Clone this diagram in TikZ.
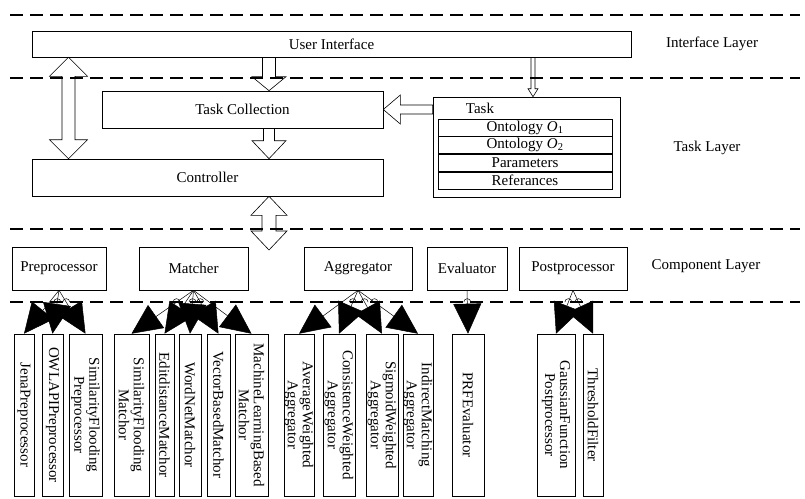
\documentclass[tikz,border=0pt]{standalone}
\usepackage{fontspec}
\setmainfont{Liberation Serif}
\usetikzlibrary{arrows.meta,calc,positioning}

% hollow block arrow: from, to, shaft half width, head half width, head length
\newcommand{\blockarrow}[5]{%
  \draw[hollow] let \p1=(#1), \p2=(#2),
      \n1={atan2(\y2-\y1,\x2-\x1)}, \n2={veclen(\x2-\x1,\y2-\y1)} in
    [shift={(\p1)}, rotate=\n1]
    (0pt,-#3) -- ({\n2*1pt-#5},-#3) -- ({\n2*1pt-#5},-#4) -- ({\n2*1pt},0pt)
    -- ({\n2*1pt-#5},#4) -- ({\n2*1pt-#5},#3) -- (0pt,#3) -- cycle;}
% same with a head at both ends
\newcommand{\twinarrow}[5]{%
  \draw[hollow] let \p1=(#1), \p2=(#2),
      \n1={atan2(\y2-\y1,\x2-\x1)}, \n2={veclen(\x2-\x1,\y2-\y1)} in
    [shift={(\p1)}, rotate=\n1]
    (0pt,0pt) -- (#5,-#4) -- (#5,-#3) -- ({\n2*1pt-#5},-#3) -- ({\n2*1pt-#5},-#4)
    -- ({\n2*1pt},0pt) -- ({\n2*1pt-#5},#4) -- ({\n2*1pt-#5},#3) -- (#5,#3)
    -- (#5,#4) -- cycle;}
% small jump of a link over the lowest layer border
\newcommand{\hop}[2]{%
  \draw[line width=0.5pt] ($(#1)!0.273!(#2)$) ++(-3.5pt,0pt)
    arc[start angle=180, end angle=0, radius=3.5pt];}

\begin{document}
\begin{tikzpicture}[x=1pt,y=-1pt,
    every node/.style={font=\fontsize{15}{15}\selectfont},
    compbox/.style={draw, line width=0.6pt, inner sep=0pt},
    subbox/.style={compbox, rotate=-90, minimum width=162pt, align=center},
    taskrow/.style={compbox, minimum width=174pt, minimum height=17pt},
    layer/.style={line width=1.8pt, dash pattern=on 13pt off 7pt},
    link/.style={line width=0.5pt, -{Triangle[length=30pt,width=28pt]}},
    hollow/.style={draw, line width=0.6pt}]
\useasboundingbox (0,0) rectangle (805,498);

% layer borders
\draw[layer] (10,15) -- (800,15);
\draw[layer] (10,78) -- (800,78);
\draw[layer] (10,229) -- (800,229);
\draw[layer] (10,302) -- (800,302);

\node (lint) at (712,44) {Interface Layer};
\node (ltask) at (707,148) {Task Layer};
\node (lcomp) at (706,266) {Component Layer};

% interface and task layer
\node[compbox, minimum width=599pt, minimum height=26pt] (ui) at (331.5,44) {User Interface};
\node[compbox, minimum width=281pt, minimum height=37pt] (tc) at (242.5,109.5) {Task Collection};
\node[compbox, minimum width=351pt, minimum height=37pt] (ctrl) at (207.5,177.5) {Controller};
\node[compbox, minimum width=187pt, minimum height=100pt] (task) at (526.5,147) {};
\node (tasklbl) at (480,108) {Task};
\node[taskrow] (o1) at (525,127.5) {Ontology \textit{O}\textsubscript{1}};
\node[taskrow, below=0pt of o1] (o2) {Ontology \textit{O}\textsubscript{2}};
\node[taskrow, below=0pt of o2] (par) {Parameters};
\node[taskrow, below=0pt of par] (refs) {Referances};

\coordinate (cbus) at (269,250);
\coordinate (lft) at (68.5,0);
\coordinate (thin) at (533,0);
\twinarrow{ui.south -| lft}{ctrl.north -| lft}{6.5pt}{19pt}{19pt}
\blockarrow{ui.south -| cbus}{tc.north -| cbus}{6.5pt}{17pt}{14pt}
\blockarrow{tc.south -| cbus}{ctrl.north -| cbus}{5.5pt}{17pt}{18pt}
\blockarrow{task.west |- tc.east}{tc.east}{4.5pt}{14.5pt}{17pt}
\blockarrow{ui.south -| thin}{task.north -| thin}{2pt}{5pt}{8pt}
\twinarrow{ctrl.south -| cbus}{cbus}{7pt}{18pt}{19pt}

% component layer
\node[compbox, minimum width=94pt, minimum height=43pt] (pre) at (59,268.5) {Preprocessor};
\node[compbox, minimum width=109pt, minimum height=43pt] (mat) at (193.5,268.5) {Matcher};
\node[compbox, minimum width=108pt, minimum height=43pt] (agg) at (358,268.5) {Aggregator};
\node[compbox, minimum width=80pt, minimum height=43pt] (eva) at (467,268.5) {Evaluator};
\node[compbox, minimum width=108pt, minimum height=43pt] (post) at (573,268.5) {Postprocessor};

% implementations (rotated, so west is the top)
\node[subbox, minimum height=20pt] (jena) at (24,415) {JenaPreprocessor};
\node[subbox, minimum height=21pt] (owl) at (52.5,415) {OWLAPIPreprocessor};
\node[subbox, minimum height=33pt] (sfp) at (85.5,415) {SimilarityFlooding\\Preprocessor};
\node[subbox, minimum height=35pt] (sfm) at (131.5,415) {SimilarityFlooding\\Matchor};
\node[subbox, minimum height=19pt] (edit) at (164.5,415) {EditdistanceMatchor};
\node[subbox, minimum height=22pt] (wn) at (190,415) {WordNetMatchor};
\node[subbox, minimum height=23pt] (vec) at (218.5,415) {VectorBasedMatchor};
\node[subbox, minimum height=33pt] (ml) at (251.5,415) {MachineLearningBased\\Matchor};
\node[subbox, minimum height=30pt] (avg) at (299,415) {AverageWeighted\\Aggregator};
\node[subbox, minimum height=32pt] (cons) at (339,415) {ConsistenceWeighted\\Aggregator};
\node[subbox, minimum height=32pt] (sig) at (382,415) {SigmoidWeighted\\Aggregator};
\node[subbox, minimum height=30pt] (ind) at (418,415) {IndirectMatching\\Aggregator};
\node[subbox, minimum height=32pt] (prf) at (468,415) {PRFEvaluator};
\node[subbox, minimum height=38pt] (gau) at (556,415) {GaussianFunction\\Postprocessor};
\node[subbox, minimum height=20pt] (thr) at (593,415) {ThresholdFilter};

\draw[link] (pre.south) -- (jena.west);
\draw[link] (pre.south) -- (owl.west);
\draw[link] (pre.south) -- (sfp.west);
\draw[link] (mat.south) -- (sfm.west);
\draw[link] (mat.south) -- (edit.west);
\draw[link] (mat.south) -- (wn.west);
\draw[link] (mat.south) -- (vec.west);
\draw[link] (mat.south) -- (ml.west);
\draw[link] (agg.south) -- (avg.west);
\draw[link] (agg.south) -- (cons.west);
\draw[link] (agg.south) -- (sig.west);
\draw[link] (agg.south) -- (ind.west);
\draw[link] (eva.south) -- (prf.west);
\draw[link] (post.south) -- (gau.west);
\draw[link] (post.south) -- (thr.west);

\hop{pre.south}{owl.west}
\hop{pre.south}{sfp.west}
\hop{mat.south}{sfm.west}
\hop{mat.south}{wn.west}
\hop{mat.south}{vec.west}
\hop{agg.south}{cons.west}
\hop{agg.south}{sig.west}
\hop{agg.south}{ind.west}
\hop{eva.south}{prf.west}
\hop{post.south}{gau.west}
\hop{post.south}{thr.west}
\end{tikzpicture}
\end{document}
